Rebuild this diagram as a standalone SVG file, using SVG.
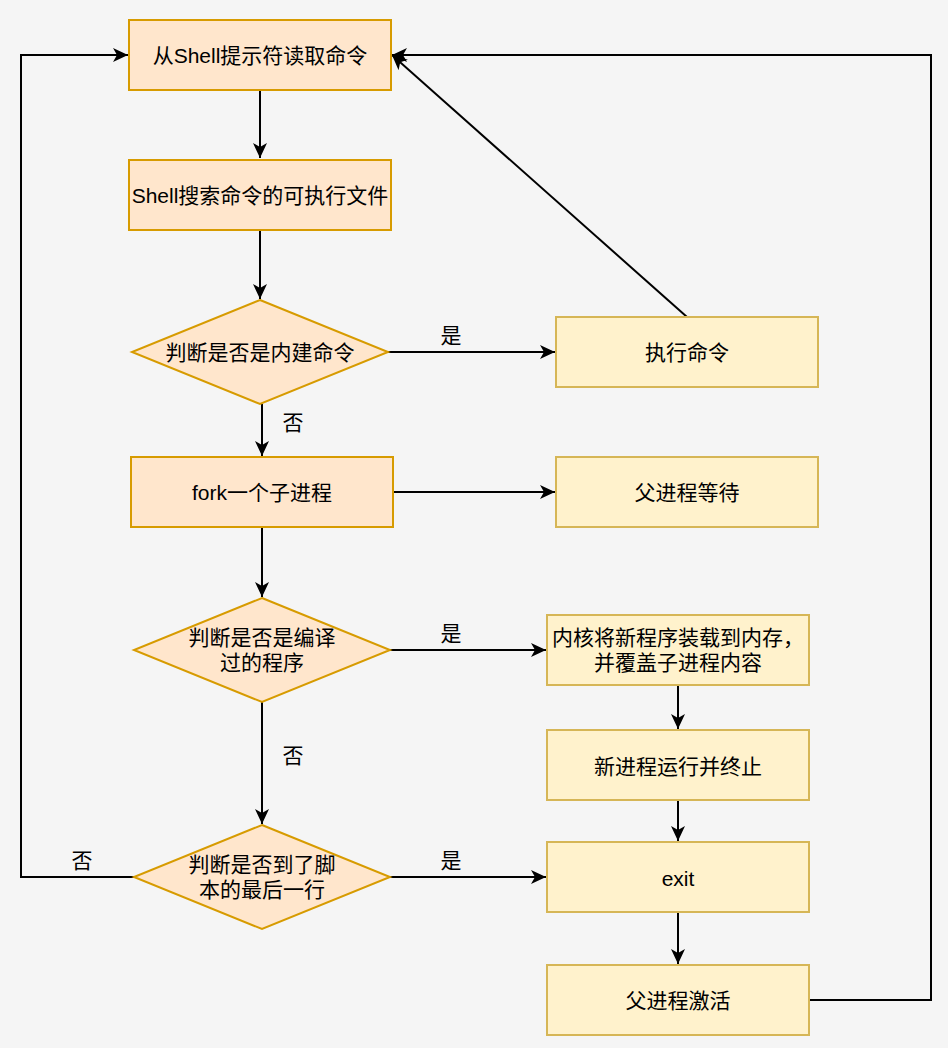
<svg xmlns="http://www.w3.org/2000/svg" width="948" height="1048" viewBox="0 0 948 1048">
<style>
text{font-family:"Liberation Sans","Noto Sans CJK SC",sans-serif;font-size:21px;fill:#000;text-anchor:middle;dominant-baseline:central}
.a{fill:#ffe6cc;stroke:#d79b00;stroke-width:2}
.b{fill:#fff2cc;stroke:#d6b656;stroke-width:2}
.c{fill:none;stroke:#000;stroke-width:2}
</style>
<defs>
<marker id="ar" markerUnits="userSpaceOnUse" markerWidth="16" markerHeight="14" refX="15" refY="7" orient="auto">
<path d="M0,0 L15,7 L0,14 L4,7 z" fill="#000"/>
</marker>
</defs>
<rect width="948" height="1048" fill="#f5f5f5"/>
<g id="connectors">
<path class="c" d="M260,90 L260,158" marker-end="url(#ar)"/>
<path class="c" d="M260,230 L260,299" marker-end="url(#ar)"/>
<path class="c" d="M388,352 L555,352" marker-end="url(#ar)"/>
<text x="451" y="335">是</text>
<path class="c" d="M262,404 L262,456" marker-end="url(#ar)"/>
<text x="293" y="422">否</text>
<path class="c" d="M687,317 L392,55" marker-end="url(#ar)"/>
<path class="c" d="M393,492 L555,492" marker-end="url(#ar)"/>
<path class="c" d="M262,527 L262,597" marker-end="url(#ar)"/>
<path class="c" d="M390,650 L546,650" marker-end="url(#ar)"/>
<text x="451" y="633">是</text>
<path class="c" d="M262,702 L262,824" marker-end="url(#ar)"/>
<text x="293" y="755">否</text>
<path class="c" d="M678,685 L678,729" marker-end="url(#ar)"/>
<path class="c" d="M678,801 L678,841" marker-end="url(#ar)"/>
<path class="c" d="M390,877 L546,877" marker-end="url(#ar)"/>
<text x="451" y="860">是</text>
<path class="c" d="M134,877 L21,877 L21,55 L128,55" marker-end="url(#ar)"/>
<text x="82" y="860">否</text>
<path class="c" d="M678,913 L678,964" marker-end="url(#ar)"/>
<path class="c" d="M810,1000 L931,1000 L931,55 L392,55" marker-end="url(#ar)"/>
</g>
<g id="n1"><rect class="a" x="129" y="20" width="262" height="70"/><text x="260" y="55">从Shell提示符读取命令</text></g>
<g id="n2"><rect class="a" x="129" y="160" width="262" height="70"/><text x="260" y="195">Shell搜索命令的可执行文件</text></g>
<g id="n3"><path class="a" d="M260,300 L388,352 L260,404 L132,352 Z"/><text x="260" y="352">判断是否是内建命令</text></g>
<g id="n4"><rect class="b" x="556" y="317" width="262" height="70"/><text x="687" y="352">执行命令</text></g>
<g id="n5"><rect class="a" x="131" y="457" width="262" height="70"/><text x="262" y="492">fork一个子进程</text></g>
<g id="n6"><rect class="b" x="556" y="457" width="262" height="70"/><text x="687" y="492">父进程等待</text></g>
<g id="n7"><path class="a" d="M262,598 L390,650 L262,702 L134,650 Z"/><text x="262" y="637">判断是否是编译</text><text x="262" y="662">过的程序</text></g>
<g id="n8"><rect class="b" x="547" y="615" width="262" height="70"/><text x="678" y="637">内核将新程序装载到内存，</text><text x="678" y="662">并覆盖子进程内容</text></g>
<g id="n9"><rect class="b" x="547" y="730" width="262" height="70"/><text x="678" y="766">新进程运行并终止</text></g>
<g id="n10"><path class="a" d="M262,825 L390,877 L262,929 L134,877 Z"/><text x="262" y="864">判断是否到了脚</text><text x="262" y="889">本的最后一行</text></g>
<g id="n11"><rect class="b" x="547" y="842" width="262" height="70"/><text x="678" y="878">exit</text></g>
<g id="n12"><rect class="b" x="547" y="965" width="262" height="70"/><text x="678" y="1000">父进程激活</text></g>
</svg>
